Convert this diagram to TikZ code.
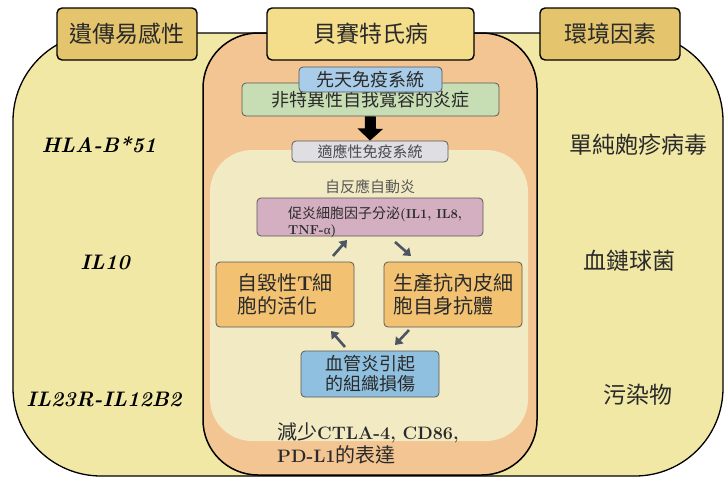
\documentclass[tikz,border=0pt]{standalone}
\usepackage{fontspec}
\newfontfamily\cjk{Noto Sans CJK TC}
\newfontfamily\grk{Liberation Serif}
\usetikzlibrary{arrows.meta}
\definecolor{outery}{HTML}{F1E8A6}
\definecolor{orng}{HTML}{F2C592}
\definecolor{pale}{HTML}{F2EAC3}
\definecolor{goldh}{HTML}{E4C46C}
\definecolor{lighth}{HTML}{F4DD8B}
\definecolor{bluei}{HTML}{A9CCE8}
\definecolor{greeni}{HTML}{C7DEB4}
\definecolor{grayi}{HTML}{DEDEE3}
\definecolor{pinki}{HTML}{D4AFC1}
\definecolor{orgbox}{HTML}{F2C272}
\definecolor{blueb}{HTML}{90C0DF}
\definecolor{arrc}{HTML}{4D5563}
\definecolor{txtc}{HTML}{2A2A2A}
\tikzset{
 hdr/.style={draw=black, line width=1.4pt, rounded corners=5pt, minimum width=140pt, minimum height=52pt, inner sep=0pt, text=txtc, font=\cjk\fontsize{23}{27}\selectfont},
 ibox/.style={draw=black!65, line width=0.8pt, rounded corners=4pt, inner sep=0pt, text=txtc},
 cyc/.style={draw=arrc, line width=2.6pt, -{Triangle[width=10pt,length=7pt]}},
 side/.style={text=txtc, font=\cjk\fontsize{23}{27}\selectfont},
 gene/.style={text=black, font=\bfseries\itshape\fontsize{21}{25}\selectfont},
}
\begin{document}
\begin{tikzpicture}[x=1pt,y=-1pt]
\useasboundingbox (0,0) rectangle (724,477);
\draw[line width=1.3pt, fill=outery, rounded corners=88pt] (13,33) rectangle (723,476);
\draw[line width=1.5pt, fill=orng, rounded corners=55pt] (203,33) rectangle (537,475);
\fill[pale, rounded corners=42pt] (210,150) rectangle (528,441);

\node[hdr, fill=goldh] (gen) at (127,34) {遺傳易感性};
\node[hdr, fill=lighth, minimum width=207pt] (bd) at (370.5,34) {貝賽特氏病};
\node[hdr, fill=goldh] (env) at (610,34) {環境因素};

\node[ibox, fill=greeni, minimum width=257pt, minimum height=33pt, font=\cjk\fontsize{18}{21}\selectfont] (ns) at (370.5,99.5) {\raisebox{-3pt}{非特異性自我寬容的炎症}};
\node[ibox, fill=bluei, minimum width=143pt, minimum height=25pt, font=\cjk\fontsize{18}{21}\selectfont] (innate) at (370.5,79.5) {先天免疫系統};
\node[ibox, fill=grayi, minimum width=156pt, minimum height=21pt, font=\cjk\fontsize{15}{18}\selectfont, text=black!70] (adapt) at (370,151.5) {適應性免疫系統};
\draw[line width=11pt, -{Triangle[width=25pt,length=12pt]}] (ns.south) -- (adapt.north);

\node[font=\cjk\fontsize{15}{18}\selectfont, text=black!65] (autol) at (370,187) {自反應自動炎};
\node[ibox, fill=pinki, minimum width=226pt, minimum height=38pt] (pink) at (370,217) {};
\node[anchor=west, align=left, inner sep=0pt, font=\fontsize{14}{16}\selectfont, text=txtc] (pinkt) at (288,222) {{\cjk 促炎細胞因子分泌}{\bfseries\fontsize{13}{16}\selectfont (IL1, IL8,}\\{\bfseries\fontsize{13}{16}\selectfont TNF-}{\grk\fontsize{13}{16}\selectfont α}{\bfseries\fontsize{13}{16}\selectfont )}};

\node[ibox, fill=orgbox, minimum width=138pt, minimum height=65pt, align=left, font=\cjk\fontsize{20}{23}\selectfont] (tcell) at (285,294.5) {自毀性{\rmfamily\bfseries T}細\\胞的活化};
\node[ibox, fill=orgbox, minimum width=138pt, minimum height=65pt, align=left, font=\cjk\fontsize{20}{23}\selectfont] (antib) at (453,294.5) {生產抗內皮細\\胞自身抗體};
\node[ibox, fill=blueb, minimum width=138pt, minimum height=46pt, align=left, font=\cjk\fontsize{18}{20}\selectfont] (vasc) at (370,374) {血管炎引起\\的組織損傷};

\node[anchor=west, align=left, inner sep=0pt, font=\fontsize{20}{23}\selectfont, text=txtc] (ctla) at (277,443.5) {{\cjk 減少}{\bfseries\fontsize{18}{23}\selectfont CTLA-4, CD86,}\\{\bfseries\fontsize{18}{23}\selectfont PD-L1}{\cjk 的表達}};

\coordinate (tcell-out) at (333,256); \coordinate (pink-in) at (347,240);
\coordinate (pink-out) at (395,242); \coordinate (antib-in) at (411,256);
\coordinate (antib-out) at (409,330); \coordinate (vasc-in) at (395,345);
\coordinate (vasc-out) at (345,347); \coordinate (tcell-in) at (331,331);
\draw[cyc] (tcell-out) -- (pink-in);
\draw[cyc] (pink-out) -- (antib-in);
\draw[cyc] (antib-out) -- (vasc-in);
\draw[cyc] (vasc-out) -- (tcell-in);

\node[gene] (hla) at (99,145) {HLA-B*51};
\node[gene] (il10) at (105,262) {IL10};
\node[gene] (il23) at (104,399) {IL23R-IL12B2};
\node[side] (hsv) at (638,145) {單純皰疹病毒};
\node[side] (strep) at (629,261) {血鏈球菌};
\node[side] (poll) at (638,395) {污染物};
\end{tikzpicture}
\end{document}
